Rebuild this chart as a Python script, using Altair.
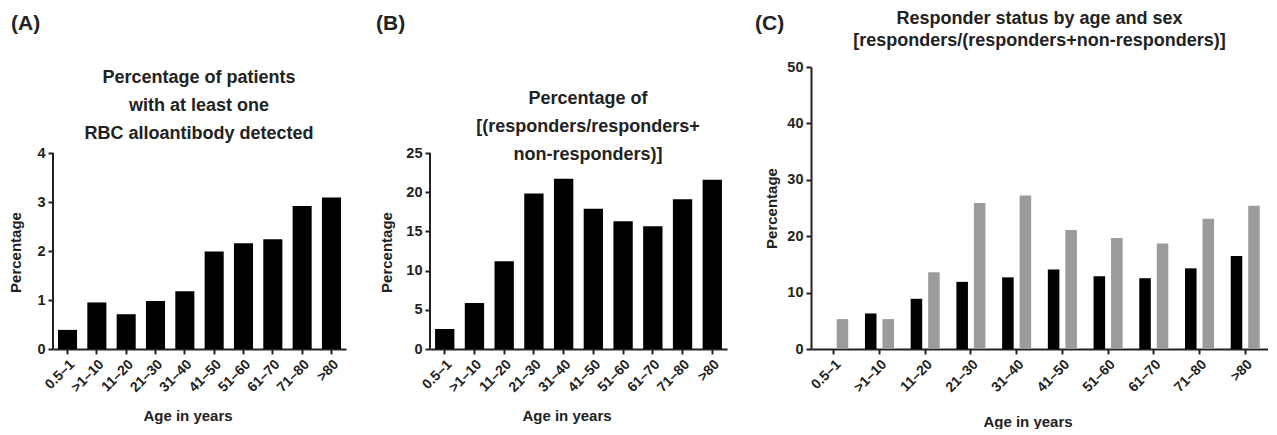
import altair as alt
import pandas as pd

ages = ["0.5–1", ">1–10", "11–20", "21–30", "31–40", "41–50", "51–60", "61–70", "71–80", ">80"]
pct_patients = [0.39, 0.95, 0.71, 0.98, 1.18, 1.99, 2.16, 2.24, 2.92, 3.09]
pct_responders = [2.55, 5.87, 11.2, 19.85, 21.7, 17.9, 16.3, 15.65, 19.1, 21.6]
series_names = ["Series 1", "Series 2"]
series_black = [0.0, 6.3, 8.9, 11.9, 12.7, 14.1, 12.9, 12.55, 14.3, 16.5]
series_grey = [5.3, 5.3, 13.6, 25.9, 27.2, 21.1, 19.7, 18.7, 23.1, 25.4]

FONT = "Liberation Sans"
INK = "#222222"
H = 282

title_a = "Percentage of patients\nwith at least one\nRBC alloantibody detected"
title_b = "Percentage of\n[(responders/responders+\nnon-responders)]"
title_c = "Responder status by age and sex\n[responders/(responders+non-responders)]"

one = pd.DataFrame({"k": [0]})


def x_axis(w, ty):
    return alt.Axis(title="Age in years", labelAngle=-45, titleX=w / 2 - 12,
                    titleY=ty, titleBaseline="middle")


def text_layer(txt, x, y, size, lh=28, align="center"):
    return alt.Chart(one).mark_text(
        font=FONT, fontSize=size, fontWeight="bold", color=INK, align=align,
        baseline="top", lineBreak="\n", lineHeight=lh
    ).encode(x=alt.value(x), y=alt.value(y), text=alt.value(txt))


def simple_panel(vals, top_val, ticks, w, title, tx, ty, label, ytitle_x):
    df = pd.DataFrame({"age": ages, "val": vals})
    ymax = top_val * H / 196.0
    yaxis = alt.Axis(values=ticks, domain=False, title="Percentage",
                     titleX=ytitle_x, titleY=185, titleBaseline="middle")
    yscale = alt.Scale(domain=[0, ymax], nice=False)
    bars = alt.Chart(df).mark_bar(color="black").encode(
        x=alt.X("age:N", sort=ages, scale=alt.Scale(paddingInner=0.35, paddingOuter=0.17),
                axis=x_axis(w, 66)),
        y=alt.Y("val:Q", scale=yscale, axis=yaxis),
    )
    line_df = pd.DataFrame({"val": [0], "val2": [top_val]})
    yline = alt.Chart(line_df).mark_rule(color=INK, strokeWidth=2).encode(
        x=alt.value(0), y=alt.Y("val:Q", scale=yscale, axis=yaxis), y2="val2:Q")
    return alt.layer(
        bars, yline,
        text_layer(title, tx, ty, 18),
        text_layer(label, -42 if label == "(A)" else -54, -54, 21, align="left"),
    ).properties(width=w, height=H)


panel_a = simple_panel(pct_patients, 4, [0, 1, 2, 3, 4], 293, title_a, 146, 2, "(A)", -38)
panel_b = simple_panel(pct_responders, 25, [0, 5, 10, 15, 20, 25], 297, title_b, 158, 23, "(B)", -44)

c_df = pd.DataFrame({
    "age": ages * 2,
    "series": [series_names[0]] * len(ages) + [series_names[1]] * len(ages),
    "val": series_black + series_grey,
})
WC = 457
c_bars = alt.Chart(c_df).mark_bar().encode(
    x=alt.X("age:N", sort=ages, scale=alt.Scale(paddingInner=0.365, paddingOuter=0.18),
            axis=x_axis(WC, 72)),
    xOffset=alt.XOffset("series:N", sort=series_names, scale=alt.Scale(paddingInner=0.34)),
    y=alt.Y("val:Q", scale=alt.Scale(domain=[0, 50], nice=False),
            axis=alt.Axis(values=[0, 10, 20, 30, 40, 50], title="Percentage",
                          titleX=-40, titleBaseline="middle")),
    color=alt.Color("series:N", sort=series_names,
                    scale=alt.Scale(domain=series_names, range=["#000000", "#9b9b9b"]),
                    legend=None),
)
panel_c = alt.layer(
    c_bars,
    text_layer(title_c, WC / 2, -57, 18, lh=22),
    text_layer("(C)", -56, -54, 21, align="left"),
).properties(width=WC, height=H)

chart = alt.hconcat(
    panel_a, panel_b, panel_c, spacing=84, bounds="flush",
    padding={"left": 0, "top": 2, "right": 0, "bottom": 0},
).configure_view(
    stroke=None
).configure_axis(
    grid=False, domainColor=INK, domainWidth=2, tickColor=INK, tickWidth=2, tickSize=5,
    labelColor=INK, titleColor=INK, labelFont=FONT, titleFont=FONT,
    labelFontWeight="bold", titleFontWeight="bold", labelFontSize=14.5, titleFontSize=15,
    labelPadding=3,
).configure_axisX(labelFontSize=14)

chart.save("out.html", embed_options={"renderer": "svg", "actions": False})
